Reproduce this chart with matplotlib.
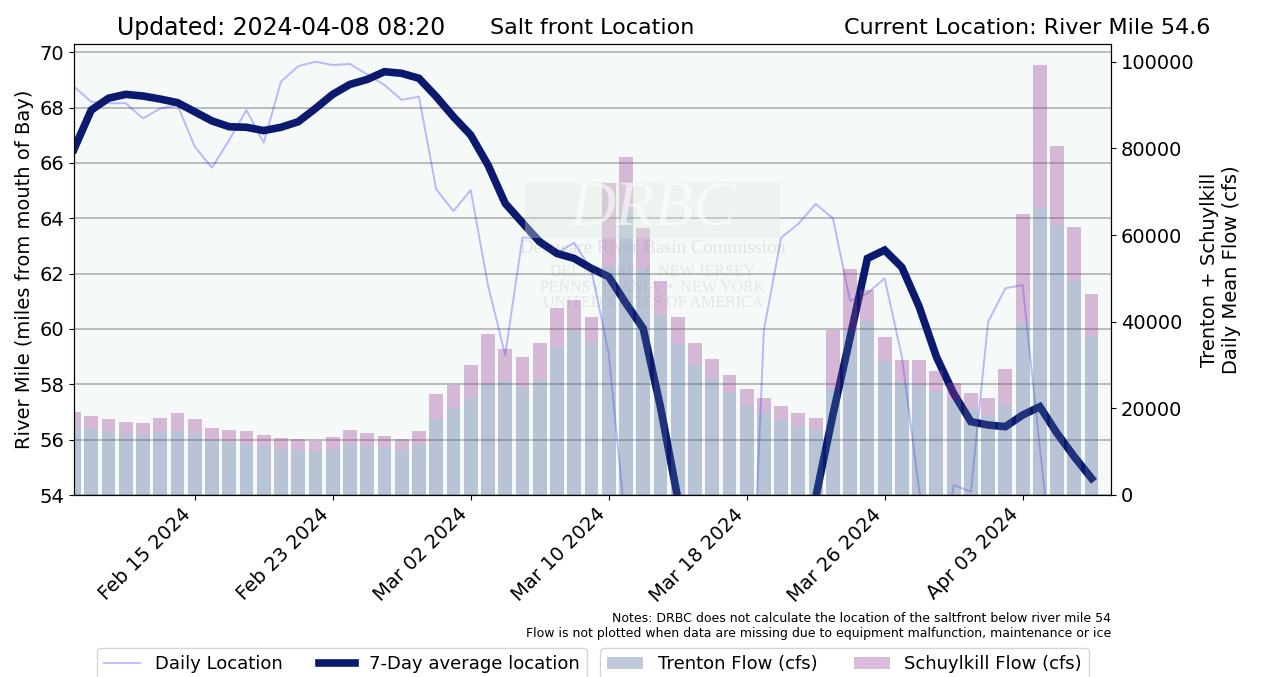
import matplotlib
matplotlib.use('Agg')
import matplotlib.pyplot as plt
import matplotlib.dates as mdates
import numpy as np
import pandas as pd

# ---------------- data ----------------
dates = pd.date_range('2024-02-08', '2024-04-07', freq='D')

trenton = [16150, 15230, 14690, 14230, 14000, 14460, 14690, 14000, 12620, 12160,
           11700, 11000, 10540, 10310, 10080, 10540, 11700, 11240, 10770, 10310,
           11460, 17540, 20080, 22390, 25620, 26380, 25000, 26540, 34160, 38000,
           34850, 52620, 65700, 52240, 41470, 34850, 30000, 26700, 23540, 20700,
           19000, 17390, 15920, 14920, 24460, 38160, 40080, 30850, 26080, 25310,
           23930, 21850, 19770, 18390, 20700, 39700, 66240, 62320, 49620, 36770]

schuylkill = [3080, 3000, 2850, 2620, 2620, 3310, 4230, 3540, 2840, 2840,
              3070, 2850, 2610, 2610, 2380, 2850, 3300, 3070, 2850, 2610,
              3310, 5770, 5310, 7610, 11540, 7320, 6850, 8540, 9000, 7000,
              6230, 19380, 12300, 9380, 7920, 6230, 5080, 4690, 4160, 3760,
              3390, 3150, 3000, 2850, 13700, 14000, 7230, 5620, 5080, 5850,
              4690, 4000, 3810, 4030, 8400, 25150, 32930, 18230, 12230, 9620]

nan = np.nan
daily_location = [68.76, 68.21, 68.16, 68.16, 67.61, 67.97, 68.09, 66.59, 65.83, 66.83,
                  67.91, 66.73, 68.94, 69.50, 69.66, 69.54, 69.58, 69.20, 68.82, 68.28,
                  68.40, 65.05, 64.26, 65.02, 61.59, 59.06, 63.30, 63.30, 62.73, 63.12,
                  62.13, 59.12, 52.80, nan, nan, nan, nan, nan, nan, 45.00,
                  59.96, 63.30, 63.80, 64.52, 64.00, 61.02, 61.29, 61.83, 59.00, 54.20,
                  50.00, 54.36, 54.12, 60.26, 61.47, 61.59, 55.70, 50.00, nan, nan]

avg7_location = [66.50, 67.91, 68.34, 68.48, 68.42, 68.31, 68.18, 67.85, 67.52, 67.31,
                 67.29, 67.17, 67.29, 67.49, 67.97, 68.48, 68.84, 69.02, 69.30, 69.24,
                 69.06, 68.40, 67.67, 67.01, 65.93, 64.54, 63.84, 63.15, 62.73, 62.55,
                 62.19, 61.89, 60.93, 60.02, 57.19, 53.90, nan, nan, nan, nan,
                 nan, nan, nan, 53.90, 56.90, 59.70, 62.55, 62.85, 62.23, 60.81,
                 59.00, 57.67, 56.65, 56.53, 56.47, 56.89, 57.19, 56.23, 55.38, 54.60]

tick_dates = pd.date_range('2024-02-15', periods=7, freq='8D')
left_ticks = list(range(54, 71, 2))
right_ticks = list(range(0, 100001, 20000))

updated_text = "Updated: 2024-04-08 08:20"
title_text = "Salt front Location"
current_text = "Current Location: River Mile 54.6"
notes_text = ("Notes: DRBC does not calculate the location of the saltfront below river mile 54\n"
              "Flow is not plotted when data are missing due to equipment malfunction, maintenance or ice")

# ---------------- figure ----------------
W, H = 1267, 677
fig = plt.figure(figsize=(W / 100, H / 100), dpi=100)
ax1 = fig.add_axes([74 / W, 1 - 495 / H, (1111 - 74) / W, (495 - 44) / H])
ax2 = ax1.twinx()

ax1.set_facecolor('#f5f9f8')
ax1.grid(axis='y', color='#b0b0b0', lw=1.2)
ax1.set_axisbelow(True)

l1, = ax1.plot(dates, daily_location, color='blue', alpha=0.25, lw=1.4, label='Daily Location')
l2, = ax1.plot(dates, avg7_location, color='#0b1a6e', lw=5.5, label='7-Day average location',
               solid_joinstyle='miter')
ax1.set_ylim(54, 70.3)
ax1.set_yticks(left_ticks)
ax1.set_ylabel('River Mile (miles from mouth of Bay)', fontsize=14)

b1 = ax2.bar(dates, trenton, width=0.8, color='#476297', alpha=0.35, label='Trenton Flow (cfs)')
b2 = ax2.bar(dates, schuylkill, width=0.8, bottom=trenton, color='#9a3f97', alpha=0.35,
             label='Schuylkill Flow (cfs)')
ax2.set_ylim(0, 104100)
ax2.set_yticks(right_ticks)
ax2.set_ylabel('Trenton + Schuylkill\nDaily Mean Flow (cfs)', fontsize=14)

ax1.set_xlim(pd.Timestamp('2024-02-08'), pd.Timestamp('2024-04-08 03:00'))
ax1.set_xticks(tick_dates)
ax1.xaxis.set_major_formatter(mdates.DateFormatter('%b %d %Y'))
for lbl in ax1.get_xticklabels():
    lbl.set_rotation(45)
    lbl.set_ha('right')
ax1.tick_params(labelsize=14)
ax2.tick_params(labelsize=14)

# watermark (DRBC logo as faint text)
ax2.add_patch(plt.Rectangle((0.435, 0.57), 0.246, 0.123, transform=ax2.transAxes,
                            color='#dfe9df', alpha=0.35, zorder=5, lw=0))
ax2.text(0.558, 0.632, 'DRBC', transform=ax2.transAxes, ha='center', va='center',
         fontsize=46, family='Liberation Serif', style='italic', color='white',
         alpha=0.6, zorder=6)
ax2.text(0.558, 0.546, 'Delaware River Basin Commission', transform=ax2.transAxes,
         ha='center', va='center', fontsize=13.5, family='Liberation Serif',
         color='#6e7b7b', alpha=0.16, zorder=6)
for yy, s in [(0.494, 'DELAWARE  •  NEW JERSEY'), (0.459, 'PENNSYLVANIA  •  NEW YORK'),
              (0.426, 'UNITED STATES OF AMERICA')]:
    ax2.text(0.558, yy, s, transform=ax2.transAxes, ha='center', va='center',
             fontsize=11.5, family='Liberation Serif', color='#6e7b7b', alpha=0.14, zorder=6)

# header texts
fig.text(117 / W, 1 - 28 / H, updated_text, fontsize=17, ha='left', va='center')
fig.text(592 / W, 1 - 28 / H, title_text, fontsize=16, ha='center', va='center')
fig.text(1210 / W, 1 - 28 / H, current_text, fontsize=16, ha='right', va='center')

fig.text(1111 / W, 1 - 626 / H, notes_text, fontsize=9, ha='right', va='center',
         multialignment='right')

fig.legend(handles=[l1, l2], loc='upper left', bbox_to_anchor=(97 / W, 1 - 648 / H),
           ncol=2, fontsize=13, borderaxespad=0)
fig.legend(handles=[b1, b2], loc='upper left', bbox_to_anchor=(600 / W, 1 - 648 / H),
           ncol=2, fontsize=13, borderaxespad=0)

fig.savefig('out.png', dpi=100)
